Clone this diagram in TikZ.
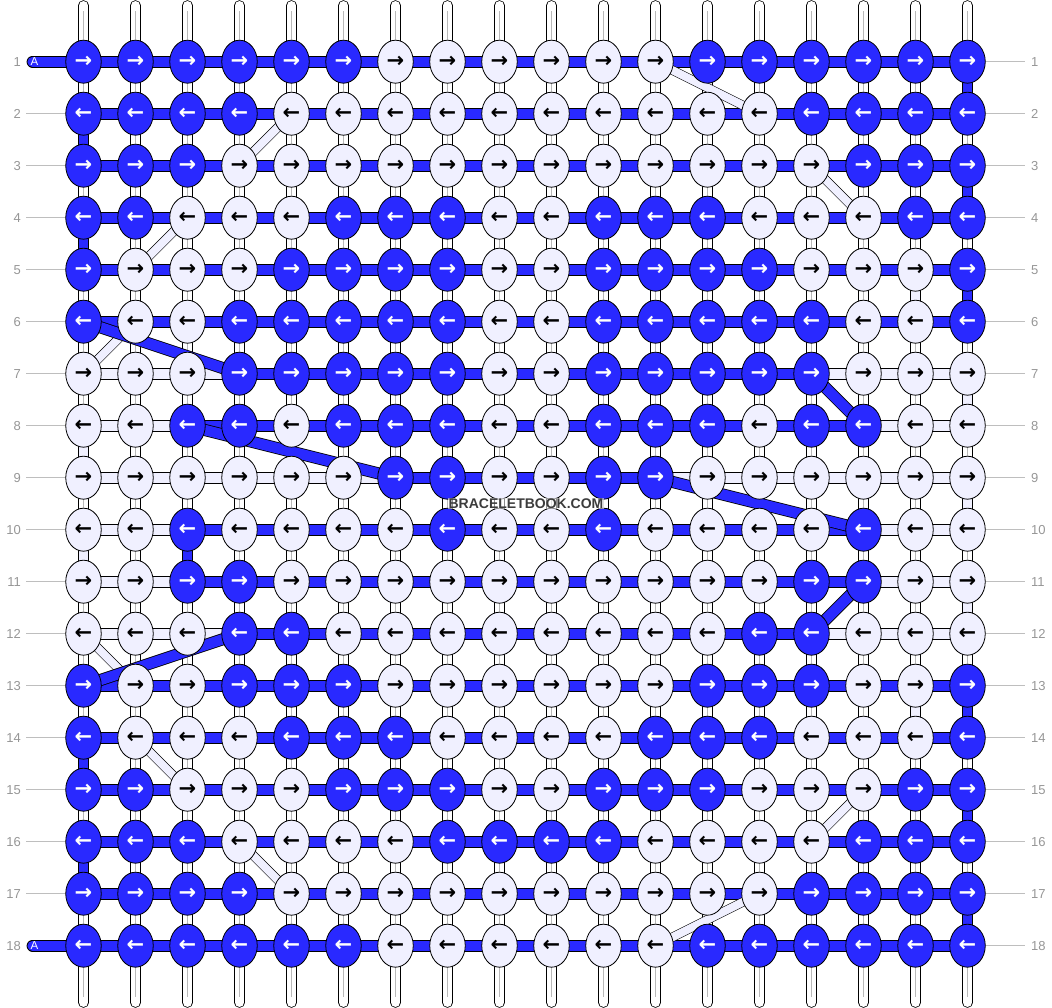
\documentclass[tikz,border=0pt]{standalone}
\usepackage{fontspec}
\setmainfont{Liberation Sans}
\newfontfamily\arrfont{DejaVu Sans}
\usetikzlibrary{shapes.geometric}
\definecolor{bblue}{RGB}{41,41,255}
\definecolor{lav}{RGB}{240,240,255}
\definecolor{lblgray}{RGB}{150,150,150}
\definecolor{linegray}{RGB}{190,190,190}
\definecolor{wmgray}{RGB}{60,60,60}
\pgfdeclarelayer{strands}
\pgfdeclarelayer{bands}
\pgfdeclarelayer{diags}
\pgfsetlayers{strands,bands,diags,main}
\tikzset{
  knot/.style={ellipse, draw=black, line width=0.8pt, minimum width=35.5pt, minimum height=43pt, inner sep=0pt, font=\arrfont\bfseries\fontsize{21}{21}\selectfont},
  strand/.style={draw=black, line width=0.8pt, double=white, double distance=9pt, line cap=round},
  strandmid/.style={draw=gray!55, line width=1pt},
  hbandB/.style={draw=black, line width=0.8pt, double=bblue, double distance=10.2pt},
  hbandW/.style={draw=black, line width=0.8pt, double=lav, double distance=10.2pt},
  vconB/.style={draw=black, line width=0.8pt, double=bblue, double distance=9pt},
  vconW/.style={draw=black, line width=0.8pt, double=lav, double distance=9pt},
  diagB/.style={draw=black, line width=0.8pt, double=bblue, double distance=10.5pt},
  diagW/.style={draw=black, line width=0.6pt, double=lav, double distance=8pt},
  leadband/.style={draw=black, line width=0.8pt, double=bblue, double distance=10.2pt, line cap=round},
  rowlab/.style={text=lblgray, font=\fontsize{13}{13}\selectfont, inner sep=0pt},
  labline/.style={draw=linegray, line width=1pt},
}
\begin{document}
\begin{tikzpicture}[x=1pt,y=-1pt]
\useasboundingbox (0,0) rectangle (1052,1008);
% knots
\foreach \r/\pat in {
 1/{1,1,1,1,1,1,0,0,0,0,0,0,1,1,1,1,1,1},
 2/{1,1,1,1,0,0,0,0,0,0,0,0,0,0,1,1,1,1},
 3/{1,1,1,0,0,0,0,0,0,0,0,0,0,0,0,1,1,1},
 4/{1,1,0,0,0,1,1,1,0,0,1,1,1,0,0,0,1,1},
 5/{1,0,0,0,1,1,1,1,0,0,1,1,1,1,0,0,0,1},
 6/{1,0,0,1,1,1,1,1,0,0,1,1,1,1,1,0,0,1},
 7/{0,0,0,1,1,1,1,1,0,0,1,1,1,1,1,0,0,0},
 8/{0,0,1,1,0,1,1,1,0,0,1,1,1,0,1,1,0,0},
 9/{0,0,0,0,0,0,1,1,0,0,1,1,0,0,0,0,0,0},
 10/{0,0,1,0,0,0,0,1,0,0,1,0,0,0,0,1,0,0},
 11/{0,0,1,1,0,0,0,0,0,0,0,0,0,0,1,1,0,0},
 12/{0,0,0,1,1,0,0,0,0,0,0,0,0,1,1,0,0,0},
 13/{1,0,0,1,1,1,0,0,0,0,0,0,1,1,1,0,0,1},
 14/{1,0,0,0,1,1,1,0,0,0,0,1,1,1,0,0,0,1},
 15/{1,1,0,0,0,1,1,1,0,0,1,1,1,0,0,0,1,1},
 16/{1,1,1,0,0,0,0,1,1,1,1,0,0,0,0,1,1,1},
 17/{1,1,1,1,0,0,0,0,0,0,0,0,0,0,1,1,1,1},
 18/{1,1,1,1,1,1,0,0,0,0,0,0,1,1,1,1,1,1}}{
  \pgfmathsetmacro\yy{61.7+52*(\r-1)}
  \foreach \v [count=\c] in \pat {
    \pgfmathsetmacro\xx{83.5+52*(\c-1)}
    \ifnum\v=1 \def\fc{bblue}\def\tc{white}\else\def\fc{lav}\def\tc{black}\fi
    \node[knot, fill=\fc, text=\tc] (n-\r-\c) at (\xx,\yy) {\ifodd\r →\else ←\fi};
  }
}
% vertical strands
\begin{pgfonlayer}{strands}
\foreach \c in {1,...,18}{
  \pgfmathsetmacro\xx{83.5+52*(\c-1)}
  \coordinate (t\c) at (\xx,5.5);
  \coordinate (b\c) at (\xx,1002.5);
  \draw[strand] (t\c) -- (b\c);
  \draw[strandmid] ([yshift=-6pt]t\c) -- ([yshift=6pt]b\c);
}
\end{pgfonlayer}
% row labels
\foreach \r in {1,...,18}{
  \pgfmathsetmacro\yy{61.7+52*(\r-1)}
  \node[rowlab, anchor=east] (L\r) at (21,\yy) {\r};
  \node[rowlab, anchor=west] (R\r) at (1031,\yy) {\r};
  \begin{pgfonlayer}{strands}
  \draw[labline] (n-\r-18.center) -- ([xshift=-6pt]R\r.west);
  \end{pgfonlayer}
}
\begin{pgfonlayer}{strands}
\foreach \r in {2,...,17}{
  \draw[labline] ([xshift=5pt]L\r.east) -- (n-\r-1.center);
}
\end{pgfonlayer}
% horizontal bands
\begin{pgfonlayer}{bands}
\foreach \r in {1,...,18}{
  \foreach \c in {1,...,17}{
    \pgfmathtruncatemacro\cn{\c+1}
    \draw[hbandB] (n-\r-\c.center) -- (n-\r-\cn.center);
  }
}
\foreach \r/\c in {7/1,7/2,7/3,7/15,7/16,7/17,
  8/1,8/2,8/16,8/17,
  9/1,9/2,9/3,9/4,9/5,9/6,9/12,9/13,9/14,9/15,9/16,9/17,
  10/1,10/2,10/16,10/17,
  11/1,11/2,11/16,11/17,
  12/1,12/2,12/3,12/15,12/16,12/17}{
  \pgfmathtruncatemacro\cn{\c+1}
  \draw[hbandW] (n-\r-\c.center) -- (n-\r-\cn.center);
}
\foreach \r/\c in {2/1,4/1,14/1,16/1,1/18,3/18,5/18,13/18,15/18,17/18,10/3}{
  \pgfmathtruncatemacro\rn{\r+1}
  \draw[vconB] (n-\r-\c.center) -- (n-\rn-\c.center);
}
\foreach \r/\c in {8/1,10/1,7/18,9/18,11/18,5/17,13/17}{
  \pgfmathtruncatemacro\rn{\r+1}
  \draw[vconW] (n-\r-\c.center) -- (n-\rn-\c.center);
}
\coordinate (la1) at (32.5,61.7);
\coordinate (la18) at (32.5,945.7);
\draw[leadband] (la1) -- (n-1-1.center);
\draw[leadband] (la18) -- (n-18-1.center);
\end{pgfonlayer}
% diagonals
\begin{pgfonlayer}{diags}
\foreach \ra/\ca/\rb/\cb in {1/12/2/14, 2/5/3/4, 4/3/5/2, 3/15/4/16, 6/2/7/1, 12/1/13/2, 14/2/15/3, 16/4/17/5, 15/16/16/15, 17/14/18/12}{
  \draw[diagW] (n-\ra-\ca.center) -- (n-\rb-\cb.center);
}
\foreach \ra/\ca/\rb/\cb in {6/1/7/4, 8/3/9/7, 9/12/10/16, 7/15/8/16, 11/16/12/15, 12/4/13/1}{
  \draw[diagB] (n-\ra-\ca.center) -- (n-\rb-\cb.center);
}
\end{pgfonlayer}
\node[text=white, font=\fontsize{11.5}{11.5}\selectfont, inner sep=0pt] (A1) at (34.5,61.7) {A};
\node[text=white, font=\fontsize{11.5}{11.5}\selectfont, inner sep=0pt] (A18) at (34.5,945.7) {A};
\node[text=wmgray, font=\bfseries\fontsize{14}{14}\selectfont, fill=white, fill opacity=0.55, text opacity=1, inner sep=1pt] (wm) at (526,503.5) {BRACELETBOOK.COM};
\end{tikzpicture}
\end{document}
